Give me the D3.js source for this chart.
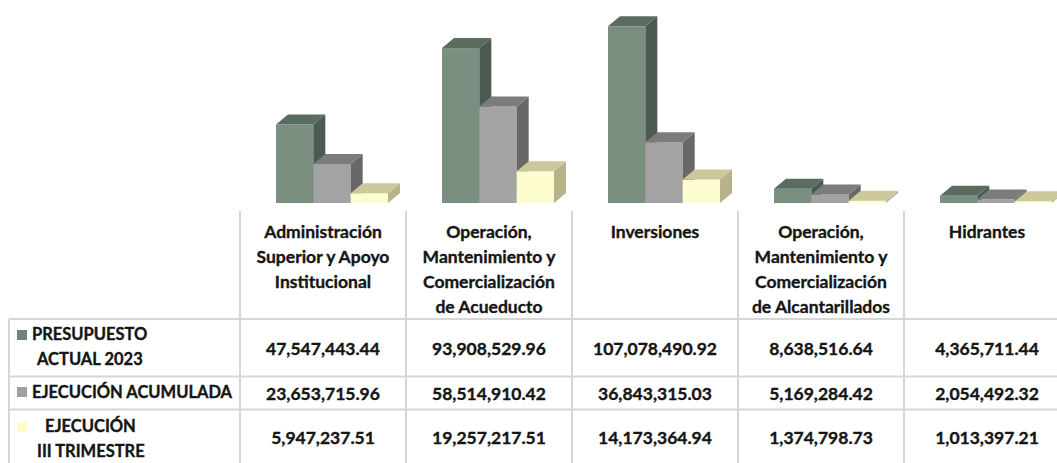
<!DOCTYPE html>
<html>
<head>
<meta charset="utf-8">
<script src="https://cdn.jsdelivr.net/npm/d3@7"></script>
<style>
  html, body { margin: 0; padding: 0; background: #ffffff; }
  svg { display: block; }
  text { font-family: Lato, "Open Sans", sans-serif; font-weight: 700; fill: #151515; stroke: #151515; stroke-width: 0.35px; }
</style>
</head>
<body>
<svg id="chart" width="1057" height="463"></svg>
<script>
// ---------- data ----------
const categories = [
  "Administración Superior y Apoyo Institucional",
  "Operación, Mantenimiento y Comercialización de Acueducto",
  "Inversiones",
  "Operación, Mantenimiento y Comercialización de Alcantarillados",
  "Hidrantes"
];
const categoryLines = [
  ["Administración", "Superior y Apoyo", "Institucional"],
  ["Operación,", "Mantenimiento y", "Comercialización", "de Acueducto"],
  ["Inversiones"],
  ["Operación,", "Mantenimiento y", "Comercialización", "de Alcantarillados"],
  ["Hidrantes"]
];
const seriesNames = ["PRESUPUESTO ACTUAL 2023", "EJECUCIÓN ACUMULADA", "EJECUCIÓN III TRIMESTRE"];
const seriesLabelLines = [["PRESUPUESTO", "ACTUAL 2023"], ["EJECUCIÓN ACUMULADA"], ["EJECUCIÓN", "III TRIMESTRE"]];
const presupuesto = [47547443.44, 93908529.96, 107078490.92, 8638516.64, 4365711.44];
const ejecucionAcumulada = [23653715.96, 58514910.42, 36843315.03, 5169284.42, 2054492.32];
const ejecucionTrimestre = [5947237.51, 19257217.51, 14173364.94, 1374798.73, 1013397.21];
const seriesValues = [presupuesto, ejecucionAcumulada, ejecucionTrimestre];

// ---------- styles ----------
const palette = [
  { front: "#7b8f80", top: "#5a6c5e", side: "#4b5b4f", key: "#6f8474" },
  { front: "#a3a3a3", top: "#7c7c7c", side: "#686868", key: "#a0a0a0" },
  { front: "#fefdcf", top: "#cbc89c", side: "#b6b38a", key: "#fdfbc8" }
];
const depthX = 12, depthY = 10;
const baseY = 203;
const gridColor = "#d6d6d6";

const svg = d3.select("#chart");

// ---------- scales ----------
const x = d3.scaleBand().domain(categories).range([240, 1070]).paddingInner(0).paddingOuter(0);
const xs = d3.scaleBand().domain(seriesNames).range([36, 148]).padding(0);
const y = d3.scaleLinear().domain([0, 120e6]).range([baseY, 5]);

// ---------- 3D bars ----------
const bars = svg.append("g");
categories.forEach((c, ci) => {
  const g = bars.append("g").attr("transform", `translate(${x(c)},0)`);
  seriesNames.forEach((s, si) => {
    const v = seriesValues[si][ci];
    const x0 = xs(s), w = xs.bandwidth();
    const yt = y(v);
    const col = palette[si];
    g.append("rect").attr("x", x0).attr("y", yt).attr("width", w).attr("height", baseY - yt)
      .attr("fill", col.front);
    g.append("path").attr("d",
      `M${x0 + w},${yt} L${x0 + w + depthX},${yt - depthY} L${x0 + w + depthX},${baseY - depthY} L${x0 + w},${baseY} Z`)
      .attr("fill", col.side);
    g.append("path").attr("d",
      `M${x0},${yt} L${x0 + w},${yt} L${x0 + w + depthX},${yt - depthY} L${x0 + depthX},${yt - depthY} Z`)
      .attr("fill", col.top);
  });
});

// ---------- data table ----------
const rowLines = [319, 376.5, 409.5];
const rowCenters = [349, 393.5, 438];
const tableBottom = 470;
const grid = svg.append("g").attr("stroke", gridColor).attr("stroke-width", 2);
rowLines.forEach(ry => {
  grid.append("line").attr("x1", 9).attr("x2", 1057).attr("y1", ry).attr("y2", ry);
});
grid.append("line").attr("x1", 9).attr("x2", 9).attr("y1", rowLines[0]).attr("y2", tableBottom);
categories.forEach(c => {
  grid.append("line").attr("x1", x(c)).attr("x2", x(c)).attr("y1", 211).attr("y2", tableBottom);
});

// header labels
const headerTop = 232, lineGap = 25;
categories.forEach((c, ci) => {
  const t = svg.append("text").attr("text-anchor", "middle").attr("font-size", 17.5);
  categoryLines[ci].forEach((ln, li) => {
    t.append("tspan").attr("x", x(c) + x.bandwidth() / 2).attr("y", headerTop + li * lineGap)
      .attr("dy", "0.35em").text(ln);
  });
});

// values
const fmt = d3.format(",.2f");
seriesNames.forEach((s, si) => {
  categories.forEach((c, ci) => {
    svg.append("text").attr("text-anchor", "middle").attr("font-size", 17.5)
      .attr("x", x(c) + x.bandwidth() / 2).attr("y", rowCenters[si]).attr("dy", "0.35em")
      .text(fmt(seriesValues[si][ci]));
  });
});

// legend column
const legendKeyY = [330, 387, 422];
const legendTextPos = [
  [[32, 334], [37, 359]],
  [[32, 392]],
  [[45, 426], [37, 451]]
];
seriesNames.forEach((s, si) => {
  svg.append("rect").attr("x", 17).attr("y", legendKeyY[si]).attr("width", 10).attr("height", 10)
    .attr("fill", palette[si].key);
  seriesLabelLines[si].forEach((ln, li) => {
    const p = legendTextPos[si][li];
    svg.append("text").attr("x", p[0]).attr("y", p[1]).attr("dy", "0.35em").attr("font-size", 16.5)
      .text(ln);
  });
});
</script>
</body>
</html>
